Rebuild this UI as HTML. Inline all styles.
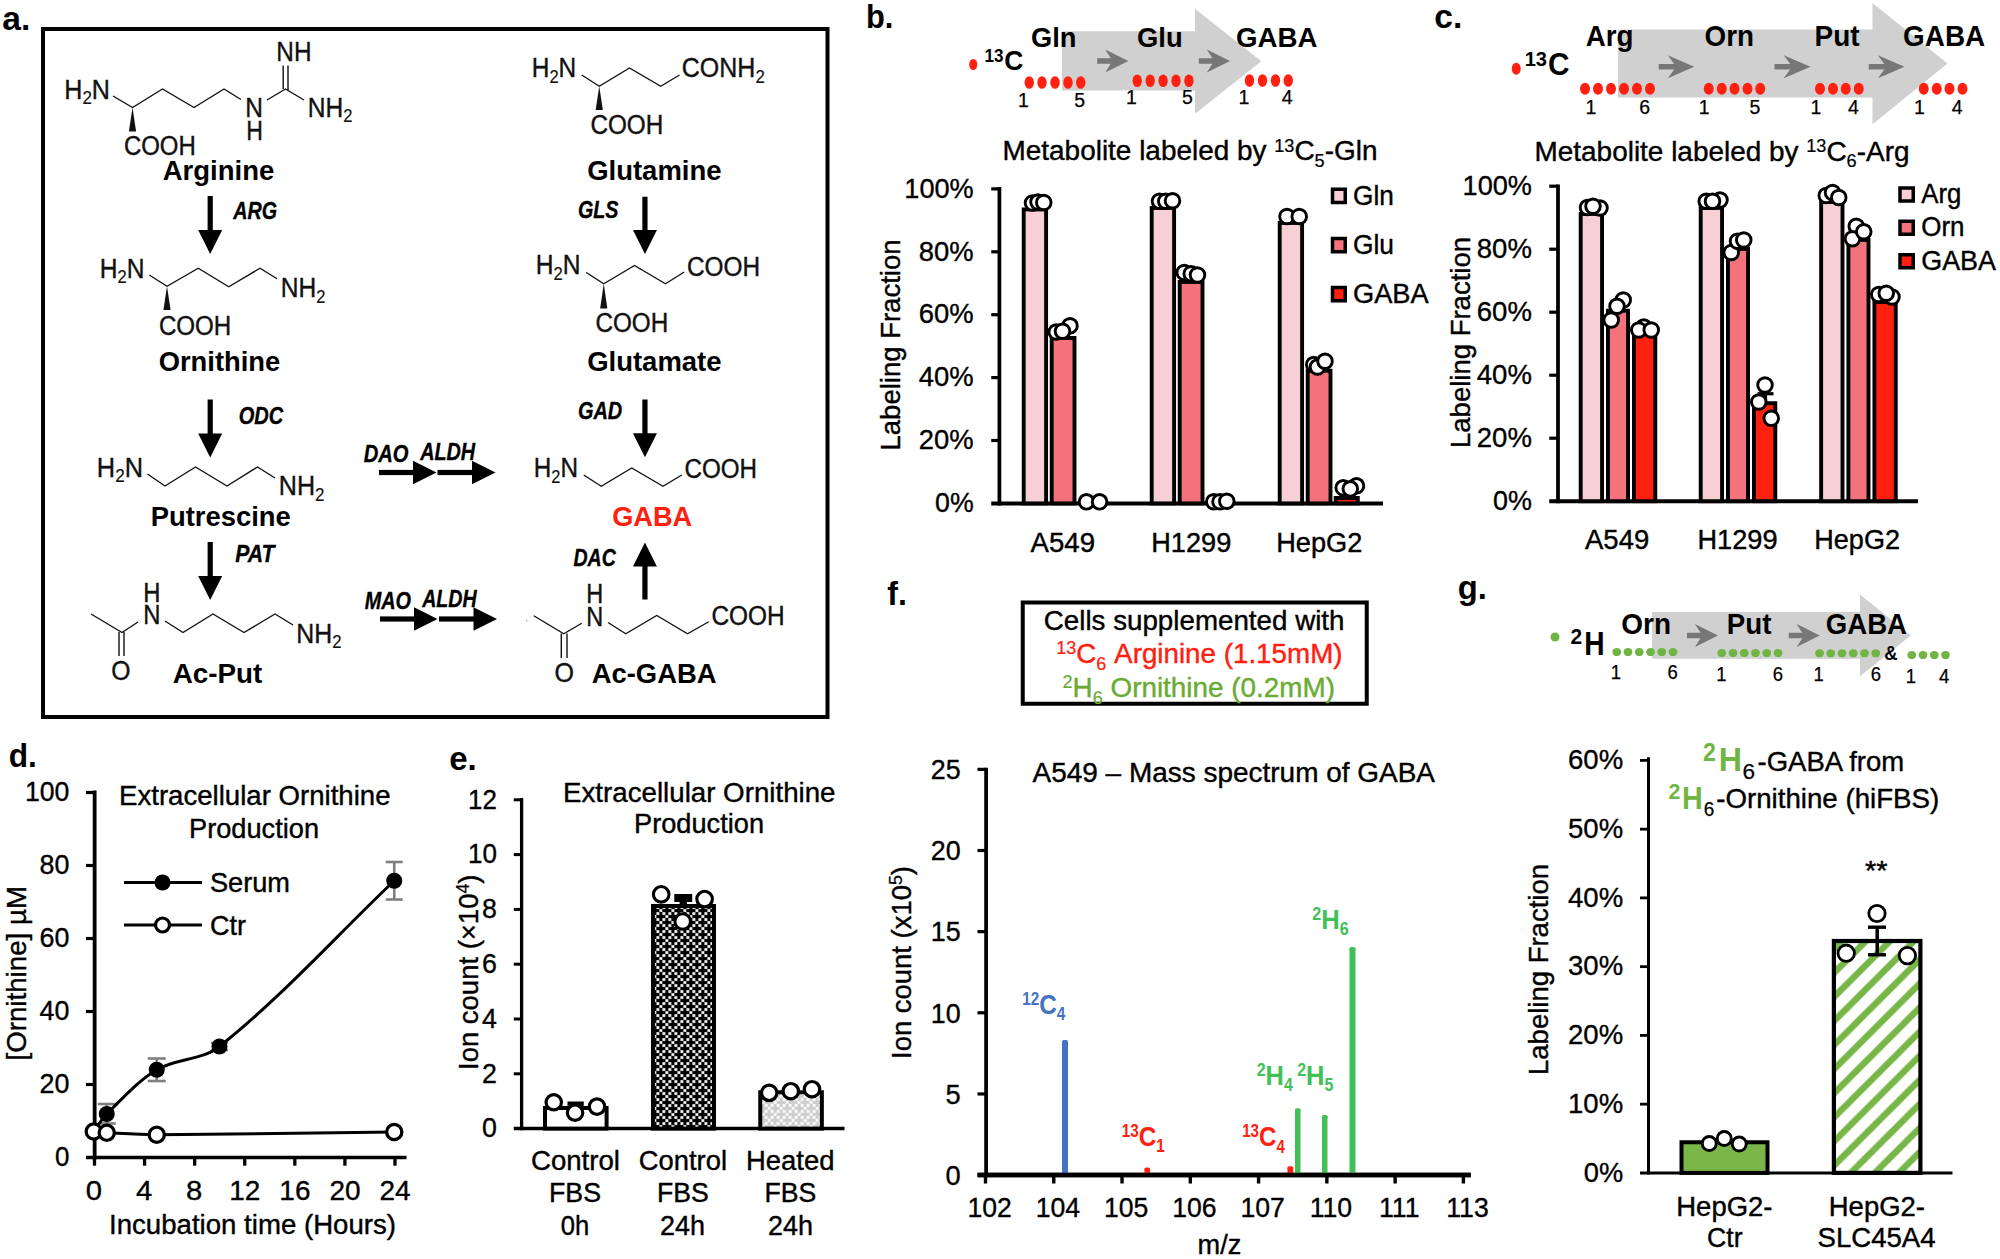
<!DOCTYPE html>
<html><head><meta charset="utf-8"><title>Figure</title>
<style>html,body{margin:0;padding:0;background:#fff}svg{display:block}text{font-family:"Liberation Sans",Arial,Helvetica,sans-serif}</style>
</head><body>
<svg width="2000" height="1259" viewBox="0 0 2000 1259">
<rect width="2000" height="1259" fill="#fff"/>
<g id="panel-a">
<text x="2.20" y="29.60" textLength="28.07" lengthAdjust="spacingAndGlyphs" font-size="33.5" font-weight="bold">a.</text>
<rect x="43.00" y="29.00" width="784.50" height="688.00" fill="none" stroke="#000" stroke-width="4"/>
<text x="64.30" y="98.60" textLength="18.14" lengthAdjust="spacingAndGlyphs" font-size="28.3" fill="#111" stroke="#111" stroke-width="0.4">H</text>
<text x="82.44" y="104.40" textLength="9.42" lengthAdjust="spacingAndGlyphs" font-size="19.075" fill="#111" stroke="#111" stroke-width="0.2">2</text>
<text x="91.85" y="98.60" textLength="18.14" lengthAdjust="spacingAndGlyphs" font-size="28.3" fill="#111" stroke="#111" stroke-width="0.4">N</text>
<polyline points="113.00,96.00 132.50,107.50 162.50,89.00 194.00,107.50 224.00,89.00 241.00,99.50" fill="none" stroke="#111" stroke-width="1.4" stroke-linejoin="miter"/>
<text x="245.30" y="117.30" textLength="17.69" lengthAdjust="spacingAndGlyphs" font-size="28.3" fill="#111" stroke="#111" stroke-width="0.4">N</text>
<text x="246.30" y="140.30" textLength="16.69" lengthAdjust="spacingAndGlyphs" font-size="28.3" fill="#111" stroke="#111" stroke-width="0.4">H</text>
<polyline points="267.00,100.00 285.50,89.00 304.00,100.00" fill="none" stroke="#111" stroke-width="1.4" stroke-linejoin="miter"/>
<line x1="283.20" y1="89.00" x2="283.20" y2="65.50" stroke="#111" stroke-width="1.4" stroke-linecap="butt"/>
<line x1="288.00" y1="90.00" x2="288.00" y2="65.50" stroke="#111" stroke-width="1.4" stroke-linecap="butt"/>
<text x="276.30" y="61.10" textLength="35.18" lengthAdjust="spacingAndGlyphs" font-size="28.3" fill="#111" stroke="#111" stroke-width="0.4">NH</text>
<text x="307.80" y="116.60" textLength="35.50" lengthAdjust="spacingAndGlyphs" font-size="28.3" fill="#111" stroke="#111" stroke-width="0.4">NH</text>
<text x="343.30" y="122.40" textLength="9.21" lengthAdjust="spacingAndGlyphs" font-size="19.075" fill="#111" stroke="#111" stroke-width="0.2">2</text>
<polygon points="132.50,107.50 128.90,131.50 136.10,131.50" fill="#111"/>
<text x="123.90" y="154.70" textLength="71.90" lengthAdjust="spacingAndGlyphs" font-size="26.8" fill="#111" stroke="#111" stroke-width="0.4">COOH</text>
<text x="162.70" y="180.40" textLength="111.62" lengthAdjust="spacingAndGlyphs" font-size="27.82" font-weight="bold">Arginine</text>
<rect x="207.60" y="196.00" width="5.20" height="35.00" fill="#000"/>
<polygon points="198.20,230.00 222.20,230.00 210.20,254.00" fill="#000"/>
<text x="233.14" y="218.90" textLength="43.85" lengthAdjust="spacingAndGlyphs" font-size="24.38" font-weight="bold" font-style="italic" stroke="#000" stroke-width="0.35">ARG</text>
<text x="99.80" y="277.60" textLength="17.74" lengthAdjust="spacingAndGlyphs" font-size="28.3" fill="#111" stroke="#111" stroke-width="0.4">H</text>
<text x="117.54" y="283.40" textLength="9.21" lengthAdjust="spacingAndGlyphs" font-size="19.075" fill="#111" stroke="#111" stroke-width="0.2">2</text>
<text x="126.75" y="277.60" textLength="17.74" lengthAdjust="spacingAndGlyphs" font-size="28.3" fill="#111" stroke="#111" stroke-width="0.4">N</text>
<polyline points="149.25,275.00 167.00,286.25 198.25,268.25 228.75,286.75 260.00,268.25 277.00,278.75" fill="none" stroke="#111" stroke-width="1.4" stroke-linejoin="miter"/>
<text x="280.80" y="296.85" textLength="35.50" lengthAdjust="spacingAndGlyphs" font-size="28.3" fill="#111" stroke="#111" stroke-width="0.4">NH</text>
<text x="316.30" y="302.65" textLength="9.21" lengthAdjust="spacingAndGlyphs" font-size="19.075" fill="#111" stroke="#111" stroke-width="0.2">2</text>
<polygon points="167.00,286.25 163.40,310.00 170.60,310.00" fill="#111"/>
<text x="158.90" y="335.45" textLength="72.40" lengthAdjust="spacingAndGlyphs" font-size="26.8" fill="#111" stroke="#111" stroke-width="0.4">COOH</text>
<text x="158.70" y="370.90" textLength="121.59" lengthAdjust="spacingAndGlyphs" font-size="27.82" font-weight="bold">Ornithine</text>
<rect x="207.60" y="399.50" width="5.20" height="35.00" fill="#000"/>
<polygon points="198.20,433.50 222.20,433.50 210.20,457.50" fill="#000"/>
<text x="238.70" y="423.90" textLength="44.54" lengthAdjust="spacingAndGlyphs" font-size="24.38" font-weight="bold" font-style="italic" stroke="#000" stroke-width="0.35">ODC</text>
<text x="96.80" y="476.60" textLength="18.34" lengthAdjust="spacingAndGlyphs" font-size="28.3" fill="#111" stroke="#111" stroke-width="0.4">H</text>
<text x="115.14" y="482.40" textLength="9.52" lengthAdjust="spacingAndGlyphs" font-size="19.075" fill="#111" stroke="#111" stroke-width="0.2">2</text>
<text x="124.66" y="476.60" textLength="18.34" lengthAdjust="spacingAndGlyphs" font-size="28.3" fill="#111" stroke="#111" stroke-width="0.4">N</text>
<polyline points="147.50,474.00 165.00,486.00 195.50,467.00 227.00,486.00 257.50,467.00 275.00,478.00" fill="none" stroke="#111" stroke-width="1.4" stroke-linejoin="miter"/>
<text x="278.80" y="495.10" textLength="36.30" lengthAdjust="spacingAndGlyphs" font-size="28.3" fill="#111" stroke="#111" stroke-width="0.4">NH</text>
<text x="315.10" y="500.90" textLength="9.42" lengthAdjust="spacingAndGlyphs" font-size="19.075" fill="#111" stroke="#111" stroke-width="0.2">2</text>
<text x="150.70" y="526.40" textLength="140.13" lengthAdjust="spacingAndGlyphs" font-size="27.82" font-weight="bold">Putrescine</text>
<rect x="207.60" y="542.00" width="5.20" height="35.00" fill="#000"/>
<polygon points="198.20,576.00 222.20,576.00 210.20,600.00" fill="#000"/>
<text x="235.20" y="561.90" textLength="39.30" lengthAdjust="spacingAndGlyphs" font-size="24.38" font-weight="bold" font-style="italic" stroke="#000" stroke-width="0.35">PAT</text>
<polyline points="91.00,614.00 122.00,632.50 138.00,622.00" fill="none" stroke="#111" stroke-width="1.4" stroke-linejoin="miter"/>
<line x1="119.00" y1="632.00" x2="119.00" y2="656.00" stroke="#111" stroke-width="1.4" stroke-linecap="butt"/>
<line x1="124.00" y1="632.00" x2="124.00" y2="656.00" stroke="#111" stroke-width="1.4" stroke-linecap="butt"/>
<text x="111.30" y="679.80" textLength="19.21" lengthAdjust="spacingAndGlyphs" font-size="28.3" fill="#111" stroke="#111" stroke-width="0.4">O</text>
<text x="143.30" y="601.80" textLength="17.19" lengthAdjust="spacingAndGlyphs" font-size="28.3" fill="#111" stroke="#111" stroke-width="0.4">H</text>
<text x="143.30" y="624.10" textLength="17.19" lengthAdjust="spacingAndGlyphs" font-size="28.3" fill="#111" stroke="#111" stroke-width="0.4">N</text>
<polyline points="165.00,621.00 183.00,632.50 213.00,614.00 244.00,632.50 275.00,614.00 293.00,625.00" fill="none" stroke="#111" stroke-width="1.4" stroke-linejoin="miter"/>
<text x="296.30" y="642.60" textLength="35.90" lengthAdjust="spacingAndGlyphs" font-size="28.3" fill="#111" stroke="#111" stroke-width="0.4">NH</text>
<text x="332.20" y="648.40" textLength="9.32" lengthAdjust="spacingAndGlyphs" font-size="19.075" fill="#111" stroke="#111" stroke-width="0.2">2</text>
<text x="172.70" y="682.90" textLength="89.59" lengthAdjust="spacingAndGlyphs" font-size="27.82" font-weight="bold">Ac-Put</text>
<text x="363.70" y="461.90" textLength="44.79" lengthAdjust="spacingAndGlyphs" font-size="24.38" font-weight="bold" font-style="italic" stroke="#000" stroke-width="0.35">DAO</text>
<text x="420.15" y="460.40" textLength="55.01" lengthAdjust="spacingAndGlyphs" font-size="24.38" font-weight="bold" font-style="italic" stroke="#000" stroke-width="0.35">ALDH</text>
<rect x="379.00" y="469.90" width="35.00" height="5.20" fill="#000"/>
<polygon points="413.00,460.70 413.00,484.30 436.50,472.50" fill="#000"/>
<rect x="437.50" y="469.90" width="35.50" height="5.20" fill="#000"/>
<polygon points="472.00,460.70 472.00,484.30 495.50,472.50" fill="#000"/>
<text x="364.70" y="608.90" textLength="46.31" lengthAdjust="spacingAndGlyphs" font-size="24.38" font-weight="bold" font-style="italic" stroke="#000" stroke-width="0.35">MAO</text>
<text x="422.14" y="606.90" textLength="54.51" lengthAdjust="spacingAndGlyphs" font-size="24.38" font-weight="bold" font-style="italic" stroke="#000" stroke-width="0.35">ALDH</text>
<rect x="380.00" y="616.40" width="35.00" height="5.20" fill="#000"/>
<polygon points="414.00,607.20 414.00,630.80 437.50,619.00" fill="#000"/>
<rect x="439.00" y="616.40" width="35.50" height="5.20" fill="#000"/>
<polygon points="473.50,607.20 473.50,630.80 497.00,619.00" fill="#000"/>
<text x="531.80" y="76.85" textLength="17.64" lengthAdjust="spacingAndGlyphs" font-size="28.3" fill="#111" stroke="#111" stroke-width="0.4">H</text>
<text x="549.44" y="82.65" textLength="9.16" lengthAdjust="spacingAndGlyphs" font-size="19.075" fill="#111" stroke="#111" stroke-width="0.2">2</text>
<text x="558.60" y="76.85" textLength="17.64" lengthAdjust="spacingAndGlyphs" font-size="28.3" fill="#111" stroke="#111" stroke-width="0.4">N</text>
<polyline points="581.75,75.00 599.25,86.25 629.50,68.00 660.75,86.25 679.50,75.00" fill="none" stroke="#111" stroke-width="1.4" stroke-linejoin="miter"/>
<text x="681.80" y="76.85" textLength="73.60" lengthAdjust="spacingAndGlyphs" font-size="28.3" fill="#111" stroke="#111" stroke-width="0.4">CONH</text>
<text x="755.40" y="82.65" textLength="9.37" lengthAdjust="spacingAndGlyphs" font-size="19.075" fill="#111" stroke="#111" stroke-width="0.2">2</text>
<polygon points="599.25,86.25 595.65,110.00 602.85,110.00" fill="#111"/>
<text x="590.40" y="134.20" textLength="72.90" lengthAdjust="spacingAndGlyphs" font-size="26.8" fill="#111" stroke="#111" stroke-width="0.4">COOH</text>
<text x="587.20" y="179.90" textLength="134.34" lengthAdjust="spacingAndGlyphs" font-size="27.82" font-weight="bold">Glutamine</text>
<text x="577.95" y="217.90" textLength="40.56" lengthAdjust="spacingAndGlyphs" font-size="24.38" font-weight="bold" font-style="italic" stroke="#000" stroke-width="0.35">GLS</text>
<rect x="642.35" y="196.75" width="5.20" height="34.25" fill="#000"/>
<polygon points="632.95,230.00 656.95,230.00 644.95,254.00" fill="#000"/>
<text x="535.80" y="274.35" textLength="17.74" lengthAdjust="spacingAndGlyphs" font-size="28.3" fill="#111" stroke="#111" stroke-width="0.4">H</text>
<text x="553.54" y="280.15" textLength="9.21" lengthAdjust="spacingAndGlyphs" font-size="19.075" fill="#111" stroke="#111" stroke-width="0.2">2</text>
<text x="562.75" y="274.35" textLength="17.74" lengthAdjust="spacingAndGlyphs" font-size="28.3" fill="#111" stroke="#111" stroke-width="0.4">N</text>
<polyline points="586.25,272.50 603.75,283.75 634.50,265.50 665.50,283.75 684.25,272.00" fill="none" stroke="#111" stroke-width="1.4" stroke-linejoin="miter"/>
<text x="686.90" y="275.95" textLength="73.15" lengthAdjust="spacingAndGlyphs" font-size="26.8" fill="#111" stroke="#111" stroke-width="0.4">COOH</text>
<polygon points="603.75,283.75 600.15,308.50 607.35,308.50" fill="#111"/>
<text x="595.40" y="332.20" textLength="72.90" lengthAdjust="spacingAndGlyphs" font-size="26.8" fill="#111" stroke="#111" stroke-width="0.4">COOH</text>
<text x="587.20" y="370.90" textLength="134.36" lengthAdjust="spacingAndGlyphs" font-size="27.82" font-weight="bold">Glutamate</text>
<text x="577.95" y="419.15" textLength="44.29" lengthAdjust="spacingAndGlyphs" font-size="24.38" font-weight="bold" font-style="italic" stroke="#000" stroke-width="0.35">GAD</text>
<rect x="642.35" y="399.50" width="5.20" height="34.75" fill="#000"/>
<polygon points="632.95,433.25 656.95,433.25 644.95,457.25" fill="#000"/>
<text x="533.80" y="477.35" textLength="17.54" lengthAdjust="spacingAndGlyphs" font-size="28.3" fill="#111" stroke="#111" stroke-width="0.4">H</text>
<text x="551.34" y="483.15" textLength="9.11" lengthAdjust="spacingAndGlyphs" font-size="19.075" fill="#111" stroke="#111" stroke-width="0.2">2</text>
<text x="560.45" y="477.35" textLength="17.54" lengthAdjust="spacingAndGlyphs" font-size="28.3" fill="#111" stroke="#111" stroke-width="0.4">N</text>
<polyline points="583.75,475.00 601.25,486.25 631.75,468.00 663.00,486.25 681.75,475.00" fill="none" stroke="#111" stroke-width="1.4" stroke-linejoin="miter"/>
<text x="684.40" y="478.45" textLength="72.65" lengthAdjust="spacingAndGlyphs" font-size="26.8" fill="#111" stroke="#111" stroke-width="0.4">COOH</text>
<text x="612.20" y="526.15" textLength="80.08" lengthAdjust="spacingAndGlyphs" font-size="28.355" font-weight="bold" fill="#ff2010">GABA</text>
<text x="573.45" y="566.40" textLength="42.29" lengthAdjust="spacingAndGlyphs" font-size="24.38" font-weight="bold" font-style="italic" stroke="#000" stroke-width="0.35">DAC</text>
<rect x="642.35" y="565.50" width="5.20" height="34.00" fill="#000"/>
<polygon points="632.95,566.50 656.95,566.50 644.95,542.50" fill="#000"/>
<polyline points="533.75,615.75 563.75,633.75 581.75,623.25" fill="none" stroke="#111" stroke-width="1.4" stroke-linejoin="miter"/>
<line x1="561.30" y1="633.50" x2="561.30" y2="658.00" stroke="#111" stroke-width="1.4" stroke-linecap="butt"/>
<line x1="567.00" y1="633.50" x2="567.00" y2="658.00" stroke="#111" stroke-width="1.4" stroke-linecap="butt"/>
<text x="554.55" y="681.80" textLength="19.46" lengthAdjust="spacingAndGlyphs" font-size="28.3" fill="#111" stroke="#111" stroke-width="0.4">O</text>
<text x="586.30" y="603.30" textLength="16.94" lengthAdjust="spacingAndGlyphs" font-size="28.3" fill="#111" stroke="#111" stroke-width="0.4">H</text>
<text x="586.30" y="625.55" textLength="16.94" lengthAdjust="spacingAndGlyphs" font-size="28.3" fill="#111" stroke="#111" stroke-width="0.4">N</text>
<polyline points="608.00,622.50 625.75,633.75 656.75,615.50 687.50,633.75 708.75,621.75" fill="none" stroke="#111" stroke-width="1.4" stroke-linejoin="miter"/>
<text x="711.40" y="625.45" textLength="73.15" lengthAdjust="spacingAndGlyphs" font-size="26.8" fill="#111" stroke="#111" stroke-width="0.4">COOH</text>
<text x="591.70" y="682.90" textLength="124.87" lengthAdjust="spacingAndGlyphs" font-size="27.82" font-weight="bold">Ac-GABA</text>
<circle cx="526.75" cy="620.50" r="0.70" fill="#999"/>
</g>
<g id="panel-b">
<text x="865.95" y="27.85" textLength="27.39" lengthAdjust="spacingAndGlyphs" font-size="33.5" font-weight="bold">b.</text>
<polygon points="1062.00,31.25 1195.00,31.25 1195.00,8.75 1261.25,61.25 1195.00,113.75 1195.00,90.50 1062.00,90.50" fill="#d0d0d0"/>
<ellipse cx="973.25" cy="64.50" rx="4.00" ry="5.50" fill="#ff2010"/>
<text x="984.50" y="61.85" textLength="19.00" lengthAdjust="spacingAndGlyphs" font-size="18.645" font-weight="bold">13</text>
<text x="1004.20" y="69.90" textLength="19.09" lengthAdjust="spacingAndGlyphs" font-size="28.355" font-weight="bold">C</text>
<text x="1031.00" y="46.75" textLength="45.47" lengthAdjust="spacingAndGlyphs" font-size="28.35" font-weight="bold">Gln</text>
<text x="1137.00" y="46.75" textLength="45.72" lengthAdjust="spacingAndGlyphs" font-size="28.35" font-weight="bold">Glu</text>
<text x="1236.00" y="46.75" textLength="81.48" lengthAdjust="spacingAndGlyphs" font-size="28.35" font-weight="bold">GABA</text>
<ellipse cx="1029.25" cy="82.50" rx="4.70" ry="6.30" fill="#ff2010"/>
<ellipse cx="1042.00" cy="82.50" rx="4.70" ry="6.30" fill="#ff2010"/>
<ellipse cx="1055.00" cy="82.50" rx="4.70" ry="6.30" fill="#ff2010"/>
<ellipse cx="1068.00" cy="82.50" rx="4.70" ry="6.30" fill="#ff2010"/>
<ellipse cx="1080.75" cy="82.50" rx="4.70" ry="6.30" fill="#ff2010"/>
<ellipse cx="1137.20" cy="80.80" rx="4.70" ry="6.30" fill="#ff2010"/>
<ellipse cx="1150.20" cy="80.80" rx="4.70" ry="6.30" fill="#ff2010"/>
<ellipse cx="1163.10" cy="80.80" rx="4.70" ry="6.30" fill="#ff2010"/>
<ellipse cx="1176.00" cy="80.80" rx="4.70" ry="6.30" fill="#ff2010"/>
<ellipse cx="1188.90" cy="80.80" rx="4.70" ry="6.30" fill="#ff2010"/>
<ellipse cx="1249.50" cy="80.50" rx="4.70" ry="6.30" fill="#ff2010"/>
<ellipse cx="1262.50" cy="80.50" rx="4.70" ry="6.30" fill="#ff2010"/>
<ellipse cx="1275.50" cy="80.50" rx="4.70" ry="6.30" fill="#ff2010"/>
<ellipse cx="1288.25" cy="80.50" rx="4.70" ry="6.30" fill="#ff2010"/>
<polygon points="1097.20,58.20 1110.80,58.20 1105.20,49.50 1128.40,61.00 1105.20,72.50 1110.80,63.80 1097.20,63.80" fill="#777"/>
<polygon points="1198.80,58.20 1212.40,58.20 1206.80,49.50 1230.00,61.00 1206.80,72.50 1212.40,63.80 1198.80,63.80" fill="#777"/>
<text x="1018.09" y="106.75" textLength="10.85" lengthAdjust="spacingAndGlyphs" font-size="20.67" stroke="#000" stroke-width="0.25">1</text>
<text x="1074.34" y="106.75" textLength="10.85" lengthAdjust="spacingAndGlyphs" font-size="20.67" stroke="#000" stroke-width="0.25">5</text>
<text x="1126.09" y="104.25" textLength="10.85" lengthAdjust="spacingAndGlyphs" font-size="20.67" stroke="#000" stroke-width="0.25">1</text>
<text x="1182.09" y="104.25" textLength="10.85" lengthAdjust="spacingAndGlyphs" font-size="20.67" stroke="#000" stroke-width="0.25">5</text>
<text x="1238.59" y="103.75" textLength="10.85" lengthAdjust="spacingAndGlyphs" font-size="20.67" stroke="#000" stroke-width="0.25">1</text>
<text x="1281.84" y="103.75" textLength="10.85" lengthAdjust="spacingAndGlyphs" font-size="20.67" stroke="#000" stroke-width="0.25">4</text>
<text x="1002.50" y="160.30" textLength="264.00" lengthAdjust="spacingAndGlyphs" font-size="27.6925" stroke="#000" stroke-width="0.4">Metabolite labeled by</text>
<text x="1274.26" y="151.55" textLength="20.18" lengthAdjust="spacingAndGlyphs" font-size="17.985" stroke="#000" stroke-width="0.2">13</text>
<text x="1294.44" y="160.30" textLength="20.17" lengthAdjust="spacingAndGlyphs" font-size="27.6925" stroke="#000" stroke-width="0.4">C</text>
<text x="1314.62" y="166.55" textLength="10.09" lengthAdjust="spacingAndGlyphs" font-size="17.985" stroke="#000" stroke-width="0.2">5</text>
<text x="1324.71" y="160.30" textLength="52.77" lengthAdjust="spacingAndGlyphs" font-size="27.6925" stroke="#000" stroke-width="0.4">-Gln</text>
<line x1="999.40" y1="187.00" x2="999.40" y2="505.40" stroke="#000" stroke-width="3.75" stroke-linecap="butt"/>
<line x1="991.25" y1="503.40" x2="1383.00" y2="503.40" stroke="#000" stroke-width="4" stroke-linecap="butt"/>
<line x1="991.25" y1="440.50" x2="999.40" y2="440.50" stroke="#000" stroke-width="3.2" stroke-linecap="butt"/>
<line x1="991.25" y1="377.60" x2="999.40" y2="377.60" stroke="#000" stroke-width="3.2" stroke-linecap="butt"/>
<line x1="991.25" y1="314.70" x2="999.40" y2="314.70" stroke="#000" stroke-width="3.2" stroke-linecap="butt"/>
<line x1="991.25" y1="251.80" x2="999.40" y2="251.80" stroke="#000" stroke-width="3.2" stroke-linecap="butt"/>
<line x1="991.25" y1="188.90" x2="999.40" y2="188.90" stroke="#000" stroke-width="3.2" stroke-linecap="butt"/>
<text x="935.05" y="512.10" textLength="38.66" lengthAdjust="spacingAndGlyphs" font-size="27.6" stroke="#000" stroke-width="0.35">0%</text>
<text x="918.80" y="449.20" textLength="54.87" lengthAdjust="spacingAndGlyphs" font-size="27.6" stroke="#000" stroke-width="0.35">20%</text>
<text x="918.80" y="386.30" textLength="54.87" lengthAdjust="spacingAndGlyphs" font-size="27.6" stroke="#000" stroke-width="0.35">40%</text>
<text x="918.80" y="323.40" textLength="54.87" lengthAdjust="spacingAndGlyphs" font-size="27.6" stroke="#000" stroke-width="0.35">60%</text>
<text x="918.80" y="260.50" textLength="54.87" lengthAdjust="spacingAndGlyphs" font-size="27.6" stroke="#000" stroke-width="0.35">80%</text>
<text x="904.30" y="197.60" textLength="69.41" lengthAdjust="spacingAndGlyphs" font-size="27.6" stroke="#000" stroke-width="0.35">100%</text>
<g transform="translate(900.00,450.50) rotate(-90)">
<text x="0.00" y="0.30" textLength="210.98" lengthAdjust="spacingAndGlyphs" font-size="27.6925" stroke="#000" stroke-width="0.4">Labeling Fraction</text>
</g>
<text x="1030.50" y="551.55" textLength="64.51" lengthAdjust="spacingAndGlyphs" font-size="27.6925" stroke="#000" stroke-width="0.4">A549</text>
<text x="1151.25" y="551.55" textLength="79.98" lengthAdjust="spacingAndGlyphs" font-size="27.6925" stroke="#000" stroke-width="0.4">H1299</text>
<text x="1276.20" y="551.55" textLength="86.13" lengthAdjust="spacingAndGlyphs" font-size="27.6925" stroke="#000" stroke-width="0.4">HepG2</text>
<rect x="1023.70" y="209.45" width="22.40" height="293.95" fill="#f6d0d5" stroke="#000" stroke-width="3.9"/>
<rect x="1051.70" y="337.95" width="22.80" height="165.45" fill="#f3727b" stroke="#000" stroke-width="3.9"/>
<rect x="1151.70" y="207.95" width="22.40" height="295.45" fill="#f6d0d5" stroke="#000" stroke-width="3.9"/>
<rect x="1179.70" y="281.95" width="22.80" height="221.45" fill="#f3727b" stroke="#000" stroke-width="3.9"/>
<rect x="1279.70" y="222.95" width="22.40" height="280.45" fill="#f6d0d5" stroke="#000" stroke-width="3.9"/>
<rect x="1307.70" y="370.70" width="22.80" height="132.70" fill="#f3727b" stroke="#000" stroke-width="3.9"/>
<rect x="1335.70" y="497.95" width="22.10" height="5.45" fill="#ff2010" stroke="#000" stroke-width="3.9"/>
<circle cx="1032.50" cy="203.00" r="7.30" fill="#fff" stroke="#000" stroke-width="2.9"/>
<circle cx="1038.00" cy="202.00" r="7.30" fill="#fff" stroke="#000" stroke-width="2.9"/>
<circle cx="1043.75" cy="202.50" r="7.30" fill="#fff" stroke="#000" stroke-width="2.9"/>
<circle cx="1056.25" cy="332.00" r="7.30" fill="#fff" stroke="#000" stroke-width="2.9"/>
<circle cx="1070.00" cy="325.75" r="7.30" fill="#fff" stroke="#000" stroke-width="2.9"/>
<circle cx="1062.50" cy="331.25" r="7.30" fill="#fff" stroke="#000" stroke-width="2.9"/>
<circle cx="1086.50" cy="501.80" r="7.30" fill="#fff" stroke="#000" stroke-width="2.9"/>
<circle cx="1099.60" cy="501.80" r="7.30" fill="#fff" stroke="#000" stroke-width="2.9"/>
<circle cx="1159.50" cy="201.25" r="7.30" fill="#fff" stroke="#000" stroke-width="2.9"/>
<circle cx="1165.75" cy="201.25" r="7.30" fill="#fff" stroke="#000" stroke-width="2.9"/>
<circle cx="1172.50" cy="200.75" r="7.30" fill="#fff" stroke="#000" stroke-width="2.9"/>
<circle cx="1184.25" cy="272.50" r="7.30" fill="#fff" stroke="#000" stroke-width="2.9"/>
<circle cx="1191.25" cy="273.75" r="7.30" fill="#fff" stroke="#000" stroke-width="2.9"/>
<circle cx="1197.50" cy="275.00" r="7.30" fill="#fff" stroke="#000" stroke-width="2.9"/>
<circle cx="1213.75" cy="501.75" r="7.30" fill="#fff" stroke="#000" stroke-width="2.9"/>
<circle cx="1220.00" cy="501.75" r="7.30" fill="#fff" stroke="#000" stroke-width="2.9"/>
<circle cx="1226.75" cy="501.25" r="7.30" fill="#fff" stroke="#000" stroke-width="2.9"/>
<circle cx="1287.00" cy="216.50" r="7.30" fill="#fff" stroke="#000" stroke-width="2.9"/>
<circle cx="1299.25" cy="216.50" r="7.30" fill="#fff" stroke="#000" stroke-width="2.9"/>
<circle cx="1313.75" cy="364.50" r="7.30" fill="#fff" stroke="#000" stroke-width="2.9"/>
<circle cx="1317.50" cy="367.00" r="7.30" fill="#fff" stroke="#000" stroke-width="2.9"/>
<circle cx="1325.00" cy="361.25" r="7.30" fill="#fff" stroke="#000" stroke-width="2.9"/>
<circle cx="1343.20" cy="487.80" r="7.30" fill="#fff" stroke="#000" stroke-width="2.9"/>
<circle cx="1356.50" cy="485.80" r="7.30" fill="#fff" stroke="#000" stroke-width="2.9"/>
<circle cx="1350.30" cy="488.80" r="7.30" fill="#fff" stroke="#000" stroke-width="2.9"/>
<rect x="1332.50" y="189.25" width="12.75" height="13.25" fill="#f6d0d5" stroke="#000" stroke-width="3.5"/>
<text x="1353.00" y="204.80" textLength="40.78" lengthAdjust="spacingAndGlyphs" font-size="27.17" stroke="#000" stroke-width="0.4">Gln</text>
<rect x="1332.50" y="238.50" width="12.75" height="13.25" fill="#f3727b" stroke="#000" stroke-width="3.5"/>
<text x="1353.00" y="254.05" textLength="41.03" lengthAdjust="spacingAndGlyphs" font-size="27.17" stroke="#000" stroke-width="0.4">Glu</text>
<rect x="1332.50" y="287.50" width="12.75" height="13.25" fill="#ff2010" stroke="#000" stroke-width="3.5"/>
<text x="1353.00" y="303.05" textLength="75.72" lengthAdjust="spacingAndGlyphs" font-size="27.17" stroke="#000" stroke-width="0.4">GABA</text>
</g>
<g id="panel-c">
<text x="1434.20" y="28.00" textLength="28.07" lengthAdjust="spacingAndGlyphs" font-size="33.5" font-weight="bold">c.</text>
<polygon points="1618.00,29.50 1872.50,29.50 1872.50,3.00 1947.50,63.62 1872.50,124.25 1872.50,97.50 1618.00,97.50" fill="#d0d0d0"/>
<ellipse cx="1516.25" cy="68.75" rx="4.50" ry="6.00" fill="#ff2010"/>
<text x="1524.70" y="66.10" textLength="22.35" lengthAdjust="spacingAndGlyphs" font-size="20.9" font-weight="bold">13</text>
<text x="1548.00" y="75.00" textLength="21.49" lengthAdjust="spacingAndGlyphs" font-size="30.975" font-weight="bold">C</text>
<text x="1585.75" y="45.50" textLength="47.74" lengthAdjust="spacingAndGlyphs" font-size="29.925" font-weight="bold">Arg</text>
<text x="1704.50" y="45.50" textLength="49.51" lengthAdjust="spacingAndGlyphs" font-size="29.925" font-weight="bold">Orn</text>
<text x="1814.50" y="45.50" textLength="45.02" lengthAdjust="spacingAndGlyphs" font-size="29.925" font-weight="bold">Put</text>
<text x="1903.00" y="45.50" textLength="82.23" lengthAdjust="spacingAndGlyphs" font-size="29.925" font-weight="bold">GABA</text>
<ellipse cx="1585.00" cy="88.75" rx="5.00" ry="6.00" fill="#ff2010"/>
<ellipse cx="1598.00" cy="88.75" rx="5.00" ry="6.00" fill="#ff2010"/>
<ellipse cx="1611.00" cy="88.75" rx="5.00" ry="6.00" fill="#ff2010"/>
<ellipse cx="1624.00" cy="88.75" rx="5.00" ry="6.00" fill="#ff2010"/>
<ellipse cx="1637.00" cy="88.75" rx="5.00" ry="6.00" fill="#ff2010"/>
<ellipse cx="1650.00" cy="88.75" rx="5.00" ry="6.00" fill="#ff2010"/>
<ellipse cx="1708.75" cy="88.75" rx="5.00" ry="6.00" fill="#ff2010"/>
<ellipse cx="1721.75" cy="88.75" rx="5.00" ry="6.00" fill="#ff2010"/>
<ellipse cx="1734.50" cy="88.75" rx="5.00" ry="6.00" fill="#ff2010"/>
<ellipse cx="1747.50" cy="88.75" rx="5.00" ry="6.00" fill="#ff2010"/>
<ellipse cx="1760.25" cy="88.75" rx="5.00" ry="6.00" fill="#ff2010"/>
<ellipse cx="1820.00" cy="88.75" rx="5.00" ry="6.00" fill="#ff2010"/>
<ellipse cx="1833.00" cy="88.75" rx="5.00" ry="6.00" fill="#ff2010"/>
<ellipse cx="1845.75" cy="88.75" rx="5.00" ry="6.00" fill="#ff2010"/>
<ellipse cx="1858.75" cy="88.75" rx="5.00" ry="6.00" fill="#ff2010"/>
<ellipse cx="1923.75" cy="88.75" rx="5.00" ry="6.00" fill="#ff2010"/>
<ellipse cx="1936.75" cy="88.75" rx="5.00" ry="6.00" fill="#ff2010"/>
<ellipse cx="1949.50" cy="88.75" rx="5.00" ry="6.00" fill="#ff2010"/>
<ellipse cx="1962.50" cy="88.75" rx="5.00" ry="6.00" fill="#ff2010"/>
<polygon points="1658.75,63.95 1674.22,63.95 1667.85,55.25 1694.25,66.75 1667.85,78.25 1674.22,69.55 1658.75,69.55" fill="#777"/>
<polygon points="1774.50,63.95 1790.19,63.95 1783.73,55.25 1810.50,66.75 1783.73,78.25 1790.19,69.55 1774.50,69.55" fill="#777"/>
<polygon points="1868.75,63.95 1884.33,63.95 1877.92,55.25 1904.50,66.75 1877.92,78.25 1884.33,69.55 1868.75,69.55" fill="#777"/>
<text x="1585.59" y="114.25" textLength="10.85" lengthAdjust="spacingAndGlyphs" font-size="20.67" stroke="#000" stroke-width="0.25">1</text>
<text x="1639.34" y="114.25" textLength="10.85" lengthAdjust="spacingAndGlyphs" font-size="20.67" stroke="#000" stroke-width="0.25">6</text>
<text x="1698.84" y="114.25" textLength="10.85" lengthAdjust="spacingAndGlyphs" font-size="20.67" stroke="#000" stroke-width="0.25">1</text>
<text x="1749.59" y="114.25" textLength="10.85" lengthAdjust="spacingAndGlyphs" font-size="20.67" stroke="#000" stroke-width="0.25">5</text>
<text x="1810.59" y="114.25" textLength="10.85" lengthAdjust="spacingAndGlyphs" font-size="20.67" stroke="#000" stroke-width="0.25">1</text>
<text x="1848.09" y="114.25" textLength="10.85" lengthAdjust="spacingAndGlyphs" font-size="20.67" stroke="#000" stroke-width="0.25">4</text>
<text x="1914.09" y="114.25" textLength="10.85" lengthAdjust="spacingAndGlyphs" font-size="20.67" stroke="#000" stroke-width="0.25">1</text>
<text x="1951.84" y="114.25" textLength="10.85" lengthAdjust="spacingAndGlyphs" font-size="20.67" stroke="#000" stroke-width="0.25">4</text>
<text x="1534.50" y="160.80" textLength="264.00" lengthAdjust="spacingAndGlyphs" font-size="27.6925" stroke="#000" stroke-width="0.4">Metabolite labeled by</text>
<text x="1806.26" y="152.05" textLength="20.18" lengthAdjust="spacingAndGlyphs" font-size="17.985" stroke="#000" stroke-width="0.2">13</text>
<text x="1826.44" y="160.80" textLength="20.17" lengthAdjust="spacingAndGlyphs" font-size="27.6925" stroke="#000" stroke-width="0.4">C</text>
<text x="1846.62" y="167.05" textLength="10.09" lengthAdjust="spacingAndGlyphs" font-size="17.985" stroke="#000" stroke-width="0.2">6</text>
<text x="1856.71" y="160.80" textLength="52.77" lengthAdjust="spacingAndGlyphs" font-size="27.6925" stroke="#000" stroke-width="0.4">-Arg</text>
<line x1="1558.00" y1="184.50" x2="1558.00" y2="503.20" stroke="#000" stroke-width="3.75" stroke-linecap="butt"/>
<line x1="1549.25" y1="501.20" x2="1918.00" y2="501.20" stroke="#000" stroke-width="4" stroke-linecap="butt"/>
<line x1="1549.25" y1="438.20" x2="1558.00" y2="438.20" stroke="#000" stroke-width="3.2" stroke-linecap="butt"/>
<line x1="1549.25" y1="375.20" x2="1558.00" y2="375.20" stroke="#000" stroke-width="3.2" stroke-linecap="butt"/>
<line x1="1549.25" y1="312.20" x2="1558.00" y2="312.20" stroke="#000" stroke-width="3.2" stroke-linecap="butt"/>
<line x1="1549.25" y1="249.20" x2="1558.00" y2="249.20" stroke="#000" stroke-width="3.2" stroke-linecap="butt"/>
<line x1="1549.25" y1="186.20" x2="1558.00" y2="186.20" stroke="#000" stroke-width="3.2" stroke-linecap="butt"/>
<text x="1493.05" y="509.90" textLength="38.91" lengthAdjust="spacingAndGlyphs" font-size="27.6" stroke="#000" stroke-width="0.35">0%</text>
<text x="1476.80" y="446.90" textLength="55.12" lengthAdjust="spacingAndGlyphs" font-size="27.6" stroke="#000" stroke-width="0.35">20%</text>
<text x="1476.80" y="383.90" textLength="55.12" lengthAdjust="spacingAndGlyphs" font-size="27.6" stroke="#000" stroke-width="0.35">40%</text>
<text x="1476.80" y="320.90" textLength="55.12" lengthAdjust="spacingAndGlyphs" font-size="27.6" stroke="#000" stroke-width="0.35">60%</text>
<text x="1476.80" y="257.90" textLength="55.12" lengthAdjust="spacingAndGlyphs" font-size="27.6" stroke="#000" stroke-width="0.35">80%</text>
<text x="1462.55" y="194.90" textLength="69.41" lengthAdjust="spacingAndGlyphs" font-size="27.6" stroke="#000" stroke-width="0.35">100%</text>
<g transform="translate(1469.50,448.00) rotate(-90)">
<text x="0.00" y="0.30" textLength="210.98" lengthAdjust="spacingAndGlyphs" font-size="27.6925" stroke="#000" stroke-width="0.4">Labeling Fraction</text>
</g>
<text x="1585.00" y="549.05" textLength="64.26" lengthAdjust="spacingAndGlyphs" font-size="27.6925" stroke="#000" stroke-width="0.4">A549</text>
<text x="1697.50" y="549.05" textLength="79.98" lengthAdjust="spacingAndGlyphs" font-size="27.6925" stroke="#000" stroke-width="0.4">H1299</text>
<text x="1814.25" y="549.05" textLength="85.78" lengthAdjust="spacingAndGlyphs" font-size="27.6925" stroke="#000" stroke-width="0.4">HepG2</text>
<rect x="1580.70" y="213.95" width="21.35" height="287.25" fill="#f6d0d5" stroke="#000" stroke-width="3.9"/>
<rect x="1607.95" y="310.70" width="20.10" height="190.50" fill="#f3727b" stroke="#000" stroke-width="3.9"/>
<rect x="1633.95" y="333.20" width="21.35" height="168.00" fill="#ff2010" stroke="#000" stroke-width="3.9"/>
<rect x="1700.70" y="207.95" width="21.35" height="293.25" fill="#f6d0d5" stroke="#000" stroke-width="3.9"/>
<rect x="1727.95" y="248.95" width="20.10" height="252.25" fill="#f3727b" stroke="#000" stroke-width="3.9"/>
<rect x="1753.95" y="403.20" width="21.35" height="98.00" fill="#ff2010" stroke="#000" stroke-width="3.9"/>
<rect x="1821.15" y="201.95" width="21.35" height="299.25" fill="#f6d0d5" stroke="#000" stroke-width="3.9"/>
<rect x="1848.40" y="239.95" width="20.10" height="261.25" fill="#f3727b" stroke="#000" stroke-width="3.9"/>
<rect x="1874.40" y="301.95" width="21.35" height="199.25" fill="#ff2010" stroke="#000" stroke-width="3.9"/>
<line x1="1757.50" y1="393.75" x2="1773.50" y2="393.75" stroke="#000" stroke-width="3.2" stroke-linecap="butt"/>
<line x1="1765.50" y1="393.75" x2="1765.50" y2="403.00" stroke="#000" stroke-width="3.2" stroke-linecap="butt"/>
<circle cx="1587.50" cy="207.50" r="7.30" fill="#fff" stroke="#000" stroke-width="2.9"/>
<circle cx="1600.00" cy="208.00" r="7.30" fill="#fff" stroke="#000" stroke-width="2.9"/>
<circle cx="1593.00" cy="206.25" r="7.30" fill="#fff" stroke="#000" stroke-width="2.9"/>
<circle cx="1623.25" cy="300.00" r="7.30" fill="#fff" stroke="#000" stroke-width="2.9"/>
<circle cx="1611.25" cy="320.00" r="7.30" fill="#fff" stroke="#000" stroke-width="2.9"/>
<circle cx="1617.00" cy="306.25" r="7.30" fill="#fff" stroke="#000" stroke-width="2.9"/>
<circle cx="1643.75" cy="327.00" r="7.30" fill="#fff" stroke="#000" stroke-width="2.9"/>
<circle cx="1638.75" cy="330.00" r="7.30" fill="#fff" stroke="#000" stroke-width="2.9"/>
<circle cx="1651.25" cy="330.00" r="7.30" fill="#fff" stroke="#000" stroke-width="2.9"/>
<circle cx="1706.25" cy="201.25" r="7.30" fill="#fff" stroke="#000" stroke-width="2.9"/>
<circle cx="1720.00" cy="200.00" r="7.30" fill="#fff" stroke="#000" stroke-width="2.9"/>
<circle cx="1712.50" cy="201.25" r="7.30" fill="#fff" stroke="#000" stroke-width="2.9"/>
<circle cx="1731.25" cy="252.50" r="7.30" fill="#fff" stroke="#000" stroke-width="2.9"/>
<circle cx="1737.50" cy="241.25" r="7.30" fill="#fff" stroke="#000" stroke-width="2.9"/>
<circle cx="1743.75" cy="240.00" r="7.30" fill="#fff" stroke="#000" stroke-width="2.9"/>
<circle cx="1765.00" cy="385.00" r="7.30" fill="#fff" stroke="#000" stroke-width="2.9"/>
<circle cx="1758.75" cy="402.00" r="7.30" fill="#fff" stroke="#000" stroke-width="2.9"/>
<circle cx="1771.25" cy="418.25" r="7.30" fill="#fff" stroke="#000" stroke-width="2.9"/>
<circle cx="1826.25" cy="195.50" r="7.30" fill="#fff" stroke="#000" stroke-width="2.9"/>
<circle cx="1832.50" cy="192.50" r="7.30" fill="#fff" stroke="#000" stroke-width="2.9"/>
<circle cx="1838.75" cy="197.50" r="7.30" fill="#fff" stroke="#000" stroke-width="2.9"/>
<circle cx="1856.25" cy="226.25" r="7.30" fill="#fff" stroke="#000" stroke-width="2.9"/>
<circle cx="1852.50" cy="238.75" r="7.30" fill="#fff" stroke="#000" stroke-width="2.9"/>
<circle cx="1863.75" cy="231.75" r="7.30" fill="#fff" stroke="#000" stroke-width="2.9"/>
<circle cx="1878.75" cy="294.50" r="7.30" fill="#fff" stroke="#000" stroke-width="2.9"/>
<circle cx="1892.00" cy="297.00" r="7.30" fill="#fff" stroke="#000" stroke-width="2.9"/>
<circle cx="1886.25" cy="293.25" r="7.30" fill="#fff" stroke="#000" stroke-width="2.9"/>
<rect x="1900.00" y="188.00" width="13.25" height="13.00" fill="#f6d0d5" stroke="#000" stroke-width="3.5"/>
<text x="1921.25" y="202.95" textLength="40.03" lengthAdjust="spacingAndGlyphs" font-size="27.17" stroke="#000" stroke-width="0.4">Arg</text>
<rect x="1900.00" y="221.25" width="13.25" height="13.00" fill="#f3727b" stroke="#000" stroke-width="3.5"/>
<text x="1921.25" y="236.20" textLength="43.24" lengthAdjust="spacingAndGlyphs" font-size="27.17" stroke="#000" stroke-width="0.4">Orn</text>
<rect x="1900.00" y="254.75" width="13.25" height="13.00" fill="#ff2010" stroke="#000" stroke-width="3.5"/>
<text x="1921.25" y="269.70" textLength="74.72" lengthAdjust="spacingAndGlyphs" font-size="27.17" stroke="#000" stroke-width="0.4">GABA</text>
</g>
<g id="panel-d">
<text x="8.70" y="766.60" textLength="28.14" lengthAdjust="spacingAndGlyphs" font-size="33.5" font-weight="bold">d.</text>
<line x1="94.65" y1="790.60" x2="94.65" y2="1159.50" stroke="#000" stroke-width="3.8" stroke-linecap="butt"/>
<line x1="86.00" y1="1157.50" x2="406.50" y2="1157.50" stroke="#000" stroke-width="3.7" stroke-linecap="butt"/>
<line x1="86.00" y1="1084.50" x2="94.65" y2="1084.50" stroke="#000" stroke-width="3.2" stroke-linecap="butt"/>
<line x1="86.00" y1="1011.50" x2="94.65" y2="1011.50" stroke="#000" stroke-width="3.2" stroke-linecap="butt"/>
<line x1="86.00" y1="938.50" x2="94.65" y2="938.50" stroke="#000" stroke-width="3.2" stroke-linecap="butt"/>
<line x1="86.00" y1="865.50" x2="94.65" y2="865.50" stroke="#000" stroke-width="3.2" stroke-linecap="butt"/>
<line x1="86.00" y1="792.50" x2="94.65" y2="792.50" stroke="#000" stroke-width="3.2" stroke-linecap="butt"/>
<line x1="94.50" y1="1157.50" x2="94.50" y2="1165.70" stroke="#000" stroke-width="3.3" stroke-linecap="butt"/>
<line x1="144.58" y1="1157.50" x2="144.58" y2="1165.70" stroke="#000" stroke-width="3.3" stroke-linecap="butt"/>
<line x1="194.66" y1="1157.50" x2="194.66" y2="1165.70" stroke="#000" stroke-width="3.3" stroke-linecap="butt"/>
<line x1="244.74" y1="1157.50" x2="244.74" y2="1165.70" stroke="#000" stroke-width="3.3" stroke-linecap="butt"/>
<line x1="294.82" y1="1157.50" x2="294.82" y2="1165.70" stroke="#000" stroke-width="3.3" stroke-linecap="butt"/>
<line x1="344.90" y1="1157.50" x2="344.90" y2="1165.70" stroke="#000" stroke-width="3.3" stroke-linecap="butt"/>
<line x1="394.98" y1="1157.50" x2="394.98" y2="1165.70" stroke="#000" stroke-width="3.3" stroke-linecap="butt"/>
<text x="55.00" y="1166.30" textLength="14.43" lengthAdjust="spacingAndGlyphs" font-size="27.6" stroke="#000" stroke-width="0.35">0</text>
<text x="39.50" y="1093.30" textLength="29.90" lengthAdjust="spacingAndGlyphs" font-size="27.6" stroke="#000" stroke-width="0.35">20</text>
<text x="39.50" y="1020.30" textLength="29.90" lengthAdjust="spacingAndGlyphs" font-size="27.6" stroke="#000" stroke-width="0.35">40</text>
<text x="39.50" y="947.30" textLength="29.90" lengthAdjust="spacingAndGlyphs" font-size="27.6" stroke="#000" stroke-width="0.35">60</text>
<text x="39.50" y="874.30" textLength="29.90" lengthAdjust="spacingAndGlyphs" font-size="27.6" stroke="#000" stroke-width="0.35">80</text>
<text x="25.00" y="801.30" textLength="44.43" lengthAdjust="spacingAndGlyphs" font-size="27.6" stroke="#000" stroke-width="0.35">100</text>
<text x="85.88" y="1199.90" textLength="16.28" lengthAdjust="spacingAndGlyphs" font-size="27.6" stroke="#000" stroke-width="0.35">0</text>
<text x="135.98" y="1199.90" textLength="16.28" lengthAdjust="spacingAndGlyphs" font-size="27.6" stroke="#000" stroke-width="0.35">4</text>
<text x="186.08" y="1199.90" textLength="16.28" lengthAdjust="spacingAndGlyphs" font-size="27.6" stroke="#000" stroke-width="0.35">8</text>
<text x="229.22" y="1199.90" textLength="31.15" lengthAdjust="spacingAndGlyphs" font-size="27.6" stroke="#000" stroke-width="0.35">12</text>
<text x="279.32" y="1199.90" textLength="31.15" lengthAdjust="spacingAndGlyphs" font-size="27.6" stroke="#000" stroke-width="0.35">16</text>
<text x="329.42" y="1199.90" textLength="31.15" lengthAdjust="spacingAndGlyphs" font-size="27.6" stroke="#000" stroke-width="0.35">20</text>
<text x="379.52" y="1199.90" textLength="31.15" lengthAdjust="spacingAndGlyphs" font-size="27.6" stroke="#000" stroke-width="0.35">24</text>
<text x="109.00" y="1234.30" textLength="287.02" lengthAdjust="spacingAndGlyphs" font-size="27.6925" stroke="#000" stroke-width="0.4">Incubation time (Hours)</text>
<g transform="translate(25.50,1060.50) rotate(-90)">
<text x="0.00" y="0.30" textLength="174.51" lengthAdjust="spacingAndGlyphs" font-size="27.6925" stroke="#000" stroke-width="0.4">[Ornithine] µM</text>
</g>
<text x="119.00" y="804.80" textLength="271.51" lengthAdjust="spacingAndGlyphs" font-size="27.6925" stroke="#000" stroke-width="0.4">Extracellular Ornithine</text>
<text x="189.00" y="838.10" textLength="130.02" lengthAdjust="spacingAndGlyphs" font-size="27.6925" stroke="#000" stroke-width="0.4">Production</text>
<line x1="124.00" y1="882.50" x2="202.00" y2="882.50" stroke="#000" stroke-width="3" stroke-linecap="butt"/>
<circle cx="162.50" cy="882.50" r="8.00" fill="#000"/>
<text x="210.00" y="892.30" textLength="80.01" lengthAdjust="spacingAndGlyphs" font-size="27.6925" stroke="#000" stroke-width="0.4">Serum</text>
<line x1="124.00" y1="925.00" x2="202.00" y2="925.00" stroke="#000" stroke-width="3" stroke-linecap="butt"/>
<circle cx="162.50" cy="925.00" r="7.00" fill="#fff" stroke="#000" stroke-width="3.2"/>
<text x="210.00" y="934.80" textLength="36.01" lengthAdjust="spacingAndGlyphs" font-size="27.6925" stroke="#000" stroke-width="0.4">Ctr</text>
<line x1="106.75" y1="1104.00" x2="106.75" y2="1123.50" stroke="#7f7f7f" stroke-width="2.6" stroke-linecap="butt"/>
<line x1="97.75" y1="1104.00" x2="115.75" y2="1104.00" stroke="#7f7f7f" stroke-width="2.6" stroke-linecap="butt"/>
<line x1="97.75" y1="1123.50" x2="115.75" y2="1123.50" stroke="#7f7f7f" stroke-width="2.6" stroke-linecap="butt"/>
<line x1="156.75" y1="1058.50" x2="156.75" y2="1081.00" stroke="#7f7f7f" stroke-width="2.6" stroke-linecap="butt"/>
<line x1="147.75" y1="1058.50" x2="165.75" y2="1058.50" stroke="#7f7f7f" stroke-width="2.6" stroke-linecap="butt"/>
<line x1="147.75" y1="1081.00" x2="165.75" y2="1081.00" stroke="#7f7f7f" stroke-width="2.6" stroke-linecap="butt"/>
<line x1="219.50" y1="1043.00" x2="219.50" y2="1050.00" stroke="#7f7f7f" stroke-width="2.6" stroke-linecap="butt"/>
<line x1="211.00" y1="1043.00" x2="228.00" y2="1043.00" stroke="#7f7f7f" stroke-width="2.6" stroke-linecap="butt"/>
<line x1="211.00" y1="1050.00" x2="228.00" y2="1050.00" stroke="#7f7f7f" stroke-width="2.6" stroke-linecap="butt"/>
<line x1="394.25" y1="862.00" x2="394.25" y2="899.50" stroke="#7f7f7f" stroke-width="2.6" stroke-linecap="butt"/>
<line x1="385.75" y1="862.00" x2="402.75" y2="862.00" stroke="#7f7f7f" stroke-width="2.6" stroke-linecap="butt"/>
<line x1="385.75" y1="899.50" x2="402.75" y2="899.50" stroke="#7f7f7f" stroke-width="2.6" stroke-linecap="butt"/>
<path d="M93.75,1131.50 C98.08,1125.67 101.48,1119.17 106.75,1114.00 C122.90,1098.17 137.60,1081.21 156.75,1069.75 C175.94,1058.26 201.94,1060.47 219.50,1046.50 C282.69,996.21 336.00,936.00 394.25,880.75" fill="none" stroke="#000" stroke-width="3"/>
<path d="M93.75,1131.50 C98.08,1131.92 102.32,1132.52 106.75,1132.75 C123.74,1133.63 139.74,1134.79 156.75,1134.75 C237.49,1134.54 315.08,1132.92 394.25,1132.00" fill="none" stroke="#000" stroke-width="3"/>
<circle cx="106.75" cy="1114.00" r="8.00" fill="#000"/>
<circle cx="156.75" cy="1069.75" r="8.00" fill="#000"/>
<circle cx="219.50" cy="1046.50" r="8.00" fill="#000"/>
<circle cx="394.25" cy="880.75" r="8.00" fill="#000"/>
<circle cx="93.75" cy="1131.50" r="7.60" fill="#fff" stroke="#000" stroke-width="3.3"/>
<circle cx="106.75" cy="1132.75" r="7.60" fill="#fff" stroke="#000" stroke-width="3.3"/>
<circle cx="156.75" cy="1134.75" r="7.60" fill="#fff" stroke="#000" stroke-width="3.3"/>
<circle cx="394.25" cy="1132.00" r="7.60" fill="#fff" stroke="#000" stroke-width="3.3"/>
</g>
<defs>
<pattern id="chk" patternUnits="userSpaceOnUse" x="656.37" y="1044.06" width="12" height="12"><rect width="12" height="12" fill="#000"/><rect x="0.10" y="0.10" width="2.8" height="2.8" fill="#fff"/><rect x="6.10" y="0.10" width="2.8" height="2.8" fill="#fff"/><rect x="0.10" y="6.10" width="2.8" height="2.8" fill="#fff"/><rect x="6.10" y="6.10" width="2.8" height="2.8" fill="#fff"/><rect x="9.10" y="3.10" width="2.8" height="2.8" fill="#fff"/><rect x="3.10" y="9.10" width="2.8" height="2.8" fill="#fff"/></pattern>
<pattern id="chk2" patternUnits="userSpaceOnUse" x="764.62" y="1109.91" width="12" height="12"><rect width="12" height="12" fill="#cfcdcd"/><rect x="0.10" y="0.10" width="2.8" height="2.8" fill="#fff"/><rect x="6.10" y="0.10" width="2.8" height="2.8" fill="#fff"/><rect x="0.10" y="6.10" width="2.8" height="2.8" fill="#fff"/><rect x="6.10" y="6.10" width="2.8" height="2.8" fill="#fff"/><rect x="9.10" y="3.10" width="2.8" height="2.8" fill="#fff"/><rect x="3.10" y="9.10" width="2.8" height="2.8" fill="#fff"/></pattern>
<pattern id="stripe" patternUnits="userSpaceOnUse" x="13.7" y="0" width="24.08" height="24.08"><rect width="24.08" height="24.08" fill="#fff"/><path d="M-6,30.08 L30.08,-6 M-6,6 L6,-6 M18.08,30.08 L30.08,18.08" stroke="#76b748" stroke-width="6.6" fill="none"/></pattern>
</defs>
<g id="panel-e">
<text x="449.20" y="770.10" textLength="27.57" lengthAdjust="spacingAndGlyphs" font-size="33.5" font-weight="bold">e.</text>
<line x1="521.60" y1="798.00" x2="521.60" y2="1130.35" stroke="#000" stroke-width="3.3" stroke-linecap="butt"/>
<line x1="513.75" y1="1128.60" x2="844.50" y2="1128.60" stroke="#000" stroke-width="3.5" stroke-linecap="butt"/>
<line x1="513.75" y1="1073.80" x2="521.60" y2="1073.80" stroke="#000" stroke-width="3" stroke-linecap="butt"/>
<line x1="513.75" y1="1019.00" x2="521.60" y2="1019.00" stroke="#000" stroke-width="3" stroke-linecap="butt"/>
<line x1="513.75" y1="964.20" x2="521.60" y2="964.20" stroke="#000" stroke-width="3" stroke-linecap="butt"/>
<line x1="513.75" y1="909.40" x2="521.60" y2="909.40" stroke="#000" stroke-width="3" stroke-linecap="butt"/>
<line x1="513.75" y1="854.60" x2="521.60" y2="854.60" stroke="#000" stroke-width="3" stroke-linecap="butt"/>
<line x1="513.75" y1="799.80" x2="521.60" y2="799.80" stroke="#000" stroke-width="3" stroke-linecap="butt"/>
<text x="482.05" y="1137.30" textLength="14.93" lengthAdjust="spacingAndGlyphs" font-size="27.6" stroke="#000" stroke-width="0.35">0</text>
<text x="482.05" y="1082.50" textLength="14.93" lengthAdjust="spacingAndGlyphs" font-size="27.6" stroke="#000" stroke-width="0.35">2</text>
<text x="482.05" y="1027.70" textLength="14.93" lengthAdjust="spacingAndGlyphs" font-size="27.6" stroke="#000" stroke-width="0.35">4</text>
<text x="482.05" y="972.90" textLength="14.93" lengthAdjust="spacingAndGlyphs" font-size="27.6" stroke="#000" stroke-width="0.35">6</text>
<text x="482.05" y="918.10" textLength="14.93" lengthAdjust="spacingAndGlyphs" font-size="27.6" stroke="#000" stroke-width="0.35">8</text>
<text x="468.05" y="863.30" textLength="28.90" lengthAdjust="spacingAndGlyphs" font-size="27.6" stroke="#000" stroke-width="0.35">10</text>
<text x="468.05" y="808.50" textLength="28.90" lengthAdjust="spacingAndGlyphs" font-size="27.6" stroke="#000" stroke-width="0.35">12</text>
<g transform="translate(477.50,1070.00) rotate(-90)">
<text x="0.00" y="0.30" textLength="176.44" lengthAdjust="spacingAndGlyphs" font-size="27.6925" stroke="#000" stroke-width="0.4">Ion count (×10</text>
<text x="176.44" y="-8.70" textLength="9.92" lengthAdjust="spacingAndGlyphs" font-size="17.985" stroke="#000" stroke-width="0.2">4</text>
<text x="186.36" y="0.30" textLength="9.15" lengthAdjust="spacingAndGlyphs" font-size="27.6925" stroke="#000" stroke-width="0.4">)</text>
</g>
<text x="563.00" y="801.55" textLength="272.51" lengthAdjust="spacingAndGlyphs" font-size="27.6925" stroke="#000" stroke-width="0.4">Extracellular Ornithine</text>
<text x="634.00" y="833.30" textLength="130.02" lengthAdjust="spacingAndGlyphs" font-size="27.6925" stroke="#000" stroke-width="0.4">Production</text>
<rect x="545.00" y="1108.00" width="61.60" height="20.60" fill="#fff" stroke="#000" stroke-width="4"/>
<rect x="653.00" y="906.00" width="61.00" height="222.60" fill="url(#chk)" stroke="#000" stroke-width="4"/>
<rect x="760.25" y="1092.25" width="61.60" height="36.35" fill="url(#chk2)" stroke="#000" stroke-width="4"/>
<rect x="567.50" y="1101.50" width="16.25" height="6.00" fill="#000"/>
<rect x="674.30" y="894.00" width="17.90" height="8.00" fill="#000"/>
<rect x="679.60" y="901.00" width="7.40" height="5.00" fill="#000"/>
<circle cx="553.75" cy="1102.25" r="7.70" fill="#fff" stroke="#000" stroke-width="3.2"/>
<circle cx="575.05" cy="1112.70" r="7.70" fill="#fff" stroke="#000" stroke-width="3.2"/>
<circle cx="597.00" cy="1106.60" r="7.70" fill="#fff" stroke="#000" stroke-width="3.2"/>
<circle cx="661.20" cy="894.30" r="7.80" fill="#fff" stroke="#000" stroke-width="3.1"/>
<circle cx="704.60" cy="899.10" r="7.80" fill="#fff" stroke="#000" stroke-width="3.1"/>
<circle cx="682.70" cy="921.50" r="7.80" fill="#fff" stroke="#000" stroke-width="3.1"/>
<circle cx="769.20" cy="1092.80" r="7.70" fill="#fff" stroke="#000" stroke-width="3.2"/>
<circle cx="790.80" cy="1091.20" r="7.70" fill="#fff" stroke="#000" stroke-width="3.2"/>
<circle cx="812.00" cy="1089.20" r="7.70" fill="#fff" stroke="#000" stroke-width="3.2"/>
<text x="531.00" y="1170.30" textLength="88.97" lengthAdjust="spacingAndGlyphs" font-size="27.6925" stroke="#000" stroke-width="0.4">Control</text>
<text x="549.00" y="1202.30" textLength="52.00" lengthAdjust="spacingAndGlyphs" font-size="27.6925" stroke="#000" stroke-width="0.4">FBS</text>
<text x="560.75" y="1234.80" textLength="28.50" lengthAdjust="spacingAndGlyphs" font-size="27.6925" stroke="#000" stroke-width="0.4">0h</text>
<text x="638.75" y="1170.30" textLength="88.22" lengthAdjust="spacingAndGlyphs" font-size="27.6925" stroke="#000" stroke-width="0.4">Control</text>
<text x="657.00" y="1202.30" textLength="51.75" lengthAdjust="spacingAndGlyphs" font-size="27.6925" stroke="#000" stroke-width="0.4">FBS</text>
<text x="660.00" y="1234.80" textLength="45.03" lengthAdjust="spacingAndGlyphs" font-size="27.6925" stroke="#000" stroke-width="0.4">24h</text>
<text x="746.00" y="1170.30" textLength="88.49" lengthAdjust="spacingAndGlyphs" font-size="27.6925" stroke="#000" stroke-width="0.4">Heated</text>
<text x="764.50" y="1202.30" textLength="51.75" lengthAdjust="spacingAndGlyphs" font-size="27.6925" stroke="#000" stroke-width="0.4">FBS</text>
<text x="768.00" y="1234.80" textLength="45.03" lengthAdjust="spacingAndGlyphs" font-size="27.6925" stroke="#000" stroke-width="0.4">24h</text>
</g>
<g id="panel-f">
<text x="887.20" y="605.10" textLength="19.63" lengthAdjust="spacingAndGlyphs" font-size="33.5" font-weight="bold">f.</text>
<rect x="1022.75" y="602.50" width="344.00" height="101.25" fill="none" stroke="#000" stroke-width="4"/>
<text x="1043.75" y="629.80" textLength="300.73" lengthAdjust="spacingAndGlyphs" font-size="27.6925" stroke="#000" stroke-width="0.4">Cells supplemented with</text>
<text x="1056.25" y="654.30" textLength="20.06" lengthAdjust="spacingAndGlyphs" font-size="17.985" fill="#ff2010" stroke="#ff2010" stroke-width="0.2">13</text>
<text x="1076.31" y="663.30" textLength="20.05" lengthAdjust="spacingAndGlyphs" font-size="27.6925" fill="#ff2010" stroke="#ff2010" stroke-width="0.4">C</text>
<text x="1096.36" y="669.80" textLength="10.03" lengthAdjust="spacingAndGlyphs" font-size="17.985" fill="#ff2010" stroke="#ff2010" stroke-width="0.2">6</text>
<text x="1114.11" y="663.30" textLength="228.40" lengthAdjust="spacingAndGlyphs" font-size="27.6925" fill="#ff2010" stroke="#ff2010" stroke-width="0.4">Arginine (1.15mM)</text>
<text x="1062.50" y="688.05" textLength="10.06" lengthAdjust="spacingAndGlyphs" font-size="17.985" fill="#6aab33" stroke="#6aab33" stroke-width="0.2">2</text>
<text x="1072.56" y="697.05" textLength="20.12" lengthAdjust="spacingAndGlyphs" font-size="27.6925" fill="#6aab33" stroke="#6aab33" stroke-width="0.4">H</text>
<text x="1092.69" y="703.55" textLength="10.06" lengthAdjust="spacingAndGlyphs" font-size="17.985" fill="#6aab33" stroke="#6aab33" stroke-width="0.2">6</text>
<text x="1110.49" y="697.05" textLength="224.52" lengthAdjust="spacingAndGlyphs" font-size="27.6925" fill="#6aab33" stroke="#6aab33" stroke-width="0.4">Ornithine (0.2mM)</text>
<line x1="986.10" y1="767.70" x2="986.10" y2="1177.30" stroke="#000" stroke-width="3.75" stroke-linecap="butt"/>
<line x1="977.50" y1="1175.10" x2="1470.75" y2="1175.10" stroke="#000" stroke-width="4.5" stroke-linecap="butt"/>
<line x1="977.50" y1="1093.95" x2="986.10" y2="1093.95" stroke="#000" stroke-width="3.2" stroke-linecap="butt"/>
<line x1="977.50" y1="1012.80" x2="986.10" y2="1012.80" stroke="#000" stroke-width="3.2" stroke-linecap="butt"/>
<line x1="977.50" y1="931.65" x2="986.10" y2="931.65" stroke="#000" stroke-width="3.2" stroke-linecap="butt"/>
<line x1="977.50" y1="850.50" x2="986.10" y2="850.50" stroke="#000" stroke-width="3.2" stroke-linecap="butt"/>
<line x1="977.50" y1="769.35" x2="986.10" y2="769.35" stroke="#000" stroke-width="3.2" stroke-linecap="butt"/>
<line x1="985.50" y1="1175.10" x2="985.50" y2="1183.50" stroke="#000" stroke-width="3.4" stroke-linecap="butt"/>
<line x1="1053.77" y1="1175.10" x2="1053.77" y2="1183.50" stroke="#000" stroke-width="3.4" stroke-linecap="butt"/>
<line x1="1122.04" y1="1175.10" x2="1122.04" y2="1183.50" stroke="#000" stroke-width="3.4" stroke-linecap="butt"/>
<line x1="1190.31" y1="1175.10" x2="1190.31" y2="1183.50" stroke="#000" stroke-width="3.4" stroke-linecap="butt"/>
<line x1="1258.58" y1="1175.10" x2="1258.58" y2="1183.50" stroke="#000" stroke-width="3.4" stroke-linecap="butt"/>
<line x1="1326.85" y1="1175.10" x2="1326.85" y2="1183.50" stroke="#000" stroke-width="3.4" stroke-linecap="butt"/>
<line x1="1395.12" y1="1175.10" x2="1395.12" y2="1183.50" stroke="#000" stroke-width="3.4" stroke-linecap="butt"/>
<line x1="1463.39" y1="1175.10" x2="1463.39" y2="1183.50" stroke="#000" stroke-width="3.4" stroke-linecap="butt"/>
<text x="945.55" y="1184.80" textLength="15.18" lengthAdjust="spacingAndGlyphs" font-size="27.6" stroke="#000" stroke-width="0.35">0</text>
<text x="945.55" y="1103.65" textLength="15.18" lengthAdjust="spacingAndGlyphs" font-size="27.6" stroke="#000" stroke-width="0.35">5</text>
<text x="930.80" y="1022.50" textLength="29.90" lengthAdjust="spacingAndGlyphs" font-size="27.6" stroke="#000" stroke-width="0.35">10</text>
<text x="930.80" y="941.35" textLength="29.90" lengthAdjust="spacingAndGlyphs" font-size="27.6" stroke="#000" stroke-width="0.35">15</text>
<text x="930.80" y="860.20" textLength="29.90" lengthAdjust="spacingAndGlyphs" font-size="27.6" stroke="#000" stroke-width="0.35">20</text>
<text x="930.80" y="779.05" textLength="29.90" lengthAdjust="spacingAndGlyphs" font-size="27.6" stroke="#000" stroke-width="0.35">25</text>
<text x="967.43" y="1217.40" textLength="44.37" lengthAdjust="spacingAndGlyphs" font-size="27.6" stroke="#000" stroke-width="0.35">102</text>
<text x="1035.70" y="1217.40" textLength="44.37" lengthAdjust="spacingAndGlyphs" font-size="27.6" stroke="#000" stroke-width="0.35">104</text>
<text x="1103.97" y="1217.40" textLength="44.37" lengthAdjust="spacingAndGlyphs" font-size="27.6" stroke="#000" stroke-width="0.35">105</text>
<text x="1172.24" y="1217.40" textLength="44.37" lengthAdjust="spacingAndGlyphs" font-size="27.6" stroke="#000" stroke-width="0.35">106</text>
<text x="1240.51" y="1217.40" textLength="44.37" lengthAdjust="spacingAndGlyphs" font-size="27.6" stroke="#000" stroke-width="0.35">107</text>
<text x="1309.71" y="1217.40" textLength="42.45" lengthAdjust="spacingAndGlyphs" font-size="27.6" stroke="#000" stroke-width="0.35">110</text>
<text x="1378.95" y="1217.40" textLength="40.54" lengthAdjust="spacingAndGlyphs" font-size="27.6" stroke="#000" stroke-width="0.35">111</text>
<text x="1446.25" y="1217.40" textLength="42.45" lengthAdjust="spacingAndGlyphs" font-size="27.6" stroke="#000" stroke-width="0.35">113</text>
<text x="1197.50" y="1254.30" textLength="43.77" lengthAdjust="spacingAndGlyphs" font-size="27.6925" stroke="#000" stroke-width="0.4">m/z</text>
<g transform="translate(911.00,1059.00) rotate(-90)">
<text x="0.00" y="0.30" textLength="173.96" lengthAdjust="spacingAndGlyphs" font-size="27.6925" stroke="#000" stroke-width="0.4">Ion count (x10</text>
<text x="173.96" y="-8.70" textLength="9.91" lengthAdjust="spacingAndGlyphs" font-size="17.985" stroke="#000" stroke-width="0.2">5</text>
<text x="183.87" y="0.30" textLength="9.14" lengthAdjust="spacingAndGlyphs" font-size="27.6925" stroke="#000" stroke-width="0.4">)</text>
</g>
<text x="1032.50" y="782.30" textLength="402.51" lengthAdjust="spacingAndGlyphs" font-size="27.6925" stroke="#000" stroke-width="0.4">A549 – Mass spectrum of GABA</text>
<rect x="1062.00" y="1041.00" width="6.00" height="134.10" fill="#4472c4"/>
<rect x="1062.00" y="1040.00" width="6.00" height="4" rx="1.8" fill="#4472c4"/>
<rect x="1144.50" y="1168.50" width="5.50" height="6.60" fill="#ff2010"/>
<rect x="1144.50" y="1167.50" width="5.50" height="4" rx="1.8" fill="#ff2010"/>
<rect x="1287.50" y="1167.30" width="5.75" height="7.80" fill="#ff2010"/>
<rect x="1287.50" y="1166.30" width="5.75" height="4" rx="1.8" fill="#ff2010"/>
<rect x="1295.00" y="1109.30" width="5.50" height="65.80" fill="#40c057"/>
<rect x="1295.00" y="1108.30" width="5.50" height="4" rx="1.8" fill="#40c057"/>
<rect x="1322.00" y="1116.00" width="5.50" height="59.10" fill="#40c057"/>
<rect x="1322.00" y="1115.00" width="5.50" height="4" rx="1.8" fill="#40c057"/>
<rect x="1349.50" y="948.00" width="6.00" height="227.10" fill="#40c057"/>
<rect x="1349.50" y="947.00" width="6.00" height="4" rx="1.8" fill="#40c057"/>
<line x1="977.50" y1="1175.10" x2="1470.75" y2="1175.10" stroke="#000" stroke-width="4.5" stroke-linecap="butt"/>
<text x="1022.20" y="1004.90" textLength="17.00" lengthAdjust="spacingAndGlyphs" font-size="17.44" font-weight="bold" fill="#4472c4">12</text>
<text x="1039.20" y="1013.90" textLength="17.61" lengthAdjust="spacingAndGlyphs" font-size="27.82" font-weight="bold" fill="#4472c4">C</text>
<text x="1056.82" y="1020.20" textLength="8.50" lengthAdjust="spacingAndGlyphs" font-size="17.44" font-weight="bold" fill="#4472c4">4</text>
<text x="1121.70" y="1136.65" textLength="17.00" lengthAdjust="spacingAndGlyphs" font-size="17.44" font-weight="bold" fill="#ff2010">13</text>
<text x="1138.70" y="1145.65" textLength="17.61" lengthAdjust="spacingAndGlyphs" font-size="27.82" font-weight="bold" fill="#ff2010">C</text>
<text x="1156.32" y="1151.95" textLength="8.50" lengthAdjust="spacingAndGlyphs" font-size="17.44" font-weight="bold" fill="#ff2010">1</text>
<text x="1242.20" y="1137.40" textLength="16.81" lengthAdjust="spacingAndGlyphs" font-size="17.44" font-weight="bold" fill="#ff2010">13</text>
<text x="1259.01" y="1146.40" textLength="17.41" lengthAdjust="spacingAndGlyphs" font-size="27.82" font-weight="bold" fill="#ff2010">C</text>
<text x="1276.41" y="1152.70" textLength="8.40" lengthAdjust="spacingAndGlyphs" font-size="17.44" font-weight="bold" fill="#ff2010">4</text>
<text x="1256.70" y="1076.15" textLength="8.87" lengthAdjust="spacingAndGlyphs" font-size="17.44" font-weight="bold" fill="#40c057">2</text>
<text x="1265.57" y="1085.15" textLength="18.38" lengthAdjust="spacingAndGlyphs" font-size="27.82" font-weight="bold" fill="#40c057">H</text>
<text x="1283.95" y="1091.45" textLength="8.87" lengthAdjust="spacingAndGlyphs" font-size="17.44" font-weight="bold" fill="#40c057">4</text>
<text x="1297.20" y="1076.15" textLength="8.87" lengthAdjust="spacingAndGlyphs" font-size="17.44" font-weight="bold" fill="#40c057">2</text>
<text x="1306.07" y="1085.15" textLength="18.38" lengthAdjust="spacingAndGlyphs" font-size="27.82" font-weight="bold" fill="#40c057">H</text>
<text x="1324.45" y="1091.45" textLength="8.87" lengthAdjust="spacingAndGlyphs" font-size="17.44" font-weight="bold" fill="#40c057">5</text>
<text x="1312.20" y="919.65" textLength="8.93" lengthAdjust="spacingAndGlyphs" font-size="17.44" font-weight="bold" fill="#40c057">2</text>
<text x="1321.13" y="928.65" textLength="18.50" lengthAdjust="spacingAndGlyphs" font-size="27.82" font-weight="bold" fill="#40c057">H</text>
<text x="1339.64" y="934.95" textLength="8.93" lengthAdjust="spacingAndGlyphs" font-size="17.44" font-weight="bold" fill="#40c057">6</text>
</g>
<g id="panel-g">
<text x="1457.70" y="599.30" textLength="29.14" lengthAdjust="spacingAndGlyphs" font-size="33.5" font-weight="bold">g.</text>
<polygon points="1652.00,612.00 1860.00,612.00 1860.00,594.50 1910.75,635.38 1860.00,676.25 1860.00,658.75 1652.00,658.75" fill="#d0d0d0"/>
<circle cx="1555.00" cy="637.00" r="4.50" fill="#70b544"/>
<text x="1570.45" y="644.35" textLength="11.62" lengthAdjust="spacingAndGlyphs" font-size="21.45" font-weight="bold">2</text>
<text x="1584.20" y="654.60" textLength="20.34" lengthAdjust="spacingAndGlyphs" font-size="33.5" font-weight="bold">H</text>
<text x="1621.25" y="634.25" textLength="49.76" lengthAdjust="spacingAndGlyphs" font-size="29.925" font-weight="bold">Orn</text>
<text x="1726.75" y="634.25" textLength="44.77" lengthAdjust="spacingAndGlyphs" font-size="29.925" font-weight="bold">Put</text>
<text x="1825.75" y="634.25" textLength="81.23" lengthAdjust="spacingAndGlyphs" font-size="29.925" font-weight="bold">GABA</text>
<ellipse cx="1616.75" cy="652.00" rx="4.40" ry="4.10" fill="#70b544"/>
<ellipse cx="1628.00" cy="652.00" rx="4.40" ry="4.10" fill="#70b544"/>
<ellipse cx="1639.25" cy="652.00" rx="4.40" ry="4.10" fill="#70b544"/>
<ellipse cx="1650.50" cy="652.00" rx="4.40" ry="4.10" fill="#70b544"/>
<ellipse cx="1661.75" cy="652.00" rx="4.40" ry="4.10" fill="#70b544"/>
<ellipse cx="1673.00" cy="652.00" rx="4.40" ry="4.10" fill="#70b544"/>
<ellipse cx="1721.75" cy="653.00" rx="4.40" ry="4.10" fill="#70b544"/>
<ellipse cx="1733.00" cy="653.00" rx="4.40" ry="4.10" fill="#70b544"/>
<ellipse cx="1744.25" cy="653.00" rx="4.40" ry="4.10" fill="#70b544"/>
<ellipse cx="1755.50" cy="653.00" rx="4.40" ry="4.10" fill="#70b544"/>
<ellipse cx="1766.75" cy="653.00" rx="4.40" ry="4.10" fill="#70b544"/>
<ellipse cx="1778.00" cy="653.00" rx="4.40" ry="4.10" fill="#70b544"/>
<ellipse cx="1819.50" cy="653.25" rx="4.40" ry="4.10" fill="#70b544"/>
<ellipse cx="1830.75" cy="653.25" rx="4.40" ry="4.10" fill="#70b544"/>
<ellipse cx="1842.00" cy="653.25" rx="4.40" ry="4.10" fill="#70b544"/>
<ellipse cx="1853.25" cy="653.25" rx="4.40" ry="4.10" fill="#70b544"/>
<ellipse cx="1864.50" cy="653.25" rx="4.40" ry="4.10" fill="#70b544"/>
<ellipse cx="1875.75" cy="653.25" rx="4.40" ry="4.10" fill="#70b544"/>
<ellipse cx="1911.75" cy="655.00" rx="4.40" ry="4.10" fill="#70b544"/>
<ellipse cx="1923.00" cy="655.00" rx="4.40" ry="4.10" fill="#70b544"/>
<ellipse cx="1934.25" cy="655.00" rx="4.40" ry="4.10" fill="#70b544"/>
<ellipse cx="1945.50" cy="655.00" rx="4.40" ry="4.10" fill="#70b544"/>
<text x="1884.20" y="660.10" textLength="13.34" lengthAdjust="spacingAndGlyphs" font-size="20.9" font-weight="bold">&amp;</text>
<polygon points="1687.00,632.70 1700.51,632.70 1694.95,624.00 1718.00,635.50 1694.95,647.00 1700.51,638.30 1687.00,638.30" fill="#777"/>
<polygon points="1788.75,632.70 1802.26,632.70 1796.70,624.00 1819.75,635.50 1796.70,647.00 1802.26,638.30 1788.75,638.30" fill="#777"/>
<text x="1610.87" y="678.50" textLength="10.29" lengthAdjust="spacingAndGlyphs" font-size="19.61" stroke="#000" stroke-width="0.25">1</text>
<text x="1667.62" y="678.50" textLength="10.29" lengthAdjust="spacingAndGlyphs" font-size="19.61" stroke="#000" stroke-width="0.25">6</text>
<text x="1716.37" y="680.50" textLength="10.29" lengthAdjust="spacingAndGlyphs" font-size="19.61" stroke="#000" stroke-width="0.25">1</text>
<text x="1772.87" y="680.50" textLength="10.29" lengthAdjust="spacingAndGlyphs" font-size="19.61" stroke="#000" stroke-width="0.25">6</text>
<text x="1813.62" y="681.25" textLength="10.29" lengthAdjust="spacingAndGlyphs" font-size="19.61" stroke="#000" stroke-width="0.25">1</text>
<text x="1870.87" y="681.25" textLength="10.29" lengthAdjust="spacingAndGlyphs" font-size="19.61" stroke="#000" stroke-width="0.25">6</text>
<text x="1905.87" y="682.50" textLength="10.29" lengthAdjust="spacingAndGlyphs" font-size="19.61" stroke="#000" stroke-width="0.25">1</text>
<text x="1939.12" y="682.50" textLength="10.29" lengthAdjust="spacingAndGlyphs" font-size="19.61" stroke="#000" stroke-width="0.25">4</text>
<line x1="1648.50" y1="757.30" x2="1648.50" y2="1174.40" stroke="#000" stroke-width="3" stroke-linecap="butt"/>
<line x1="1640.00" y1="1172.90" x2="1952.50" y2="1172.90" stroke="#000" stroke-width="3" stroke-linecap="butt"/>
<line x1="1640.00" y1="1104.15" x2="1648.50" y2="1104.15" stroke="#000" stroke-width="2.8" stroke-linecap="butt"/>
<line x1="1640.00" y1="1035.40" x2="1648.50" y2="1035.40" stroke="#000" stroke-width="2.8" stroke-linecap="butt"/>
<line x1="1640.00" y1="966.65" x2="1648.50" y2="966.65" stroke="#000" stroke-width="2.8" stroke-linecap="butt"/>
<line x1="1640.00" y1="897.90" x2="1648.50" y2="897.90" stroke="#000" stroke-width="2.8" stroke-linecap="butt"/>
<line x1="1640.00" y1="829.15" x2="1648.50" y2="829.15" stroke="#000" stroke-width="2.8" stroke-linecap="butt"/>
<line x1="1640.00" y1="760.40" x2="1648.50" y2="760.40" stroke="#000" stroke-width="2.8" stroke-linecap="butt"/>
<text x="1583.80" y="1181.50" textLength="39.41" lengthAdjust="spacingAndGlyphs" font-size="27.6" stroke="#000" stroke-width="0.35">0%</text>
<text x="1568.05" y="1112.75" textLength="55.12" lengthAdjust="spacingAndGlyphs" font-size="27.6" stroke="#000" stroke-width="0.35">10%</text>
<text x="1568.05" y="1044.00" textLength="55.12" lengthAdjust="spacingAndGlyphs" font-size="27.6" stroke="#000" stroke-width="0.35">20%</text>
<text x="1568.05" y="975.25" textLength="55.12" lengthAdjust="spacingAndGlyphs" font-size="27.6" stroke="#000" stroke-width="0.35">30%</text>
<text x="1568.05" y="906.50" textLength="55.12" lengthAdjust="spacingAndGlyphs" font-size="27.6" stroke="#000" stroke-width="0.35">40%</text>
<text x="1568.05" y="837.75" textLength="55.12" lengthAdjust="spacingAndGlyphs" font-size="27.6" stroke="#000" stroke-width="0.35">50%</text>
<text x="1568.05" y="769.00" textLength="55.12" lengthAdjust="spacingAndGlyphs" font-size="27.6" stroke="#000" stroke-width="0.35">60%</text>
<g transform="translate(1547.25,1075.00) rotate(-90)">
<text x="0.00" y="0.30" textLength="210.98" lengthAdjust="spacingAndGlyphs" font-size="27.6925" stroke="#000" stroke-width="0.4">Labeling Fraction</text>
</g>
<text x="1702.95" y="760.60" textLength="12.88" lengthAdjust="spacingAndGlyphs" font-size="25.3" font-weight="bold" fill="#70b544">2</text>
<text x="1718.75" y="771.00" textLength="23.24" lengthAdjust="spacingAndGlyphs" font-size="34.125" font-weight="bold" fill="#70b544">H</text>
<text x="1742.50" y="779.25" textLength="12.53" lengthAdjust="spacingAndGlyphs" font-size="22.26" stroke="#000" stroke-width="0.25">6</text>
<text x="1757.50" y="770.80" textLength="146.74" lengthAdjust="spacingAndGlyphs" font-size="27.6925" stroke="#000" stroke-width="0.4">-GABA from</text>
<text x="1668.45" y="799.35" textLength="11.88" lengthAdjust="spacingAndGlyphs" font-size="21.45" font-weight="bold" fill="#70b544">2</text>
<text x="1682.00" y="808.50" textLength="20.74" lengthAdjust="spacingAndGlyphs" font-size="30.975" font-weight="bold" fill="#70b544">H</text>
<text x="1703.75" y="816.00" textLength="10.52" lengthAdjust="spacingAndGlyphs" font-size="19.61" stroke="#000" stroke-width="0.25">6</text>
<text x="1716.25" y="808.30" textLength="223.01" lengthAdjust="spacingAndGlyphs" font-size="27.6925" stroke="#000" stroke-width="0.4">-Ornithine (hiFBS)</text>
<text x="1865.00" y="880.30" textLength="22.52" lengthAdjust="spacingAndGlyphs" font-size="27.6925" stroke="#000" stroke-width="0.4">**</text>
<rect x="1681.50" y="1142.25" width="86.00" height="30.65" fill="#7ab648" stroke="#000" stroke-width="4"/>
<rect x="1833.90" y="941.00" width="86.50" height="231.90" fill="url(#stripe)" stroke="#000" stroke-width="4.2"/>
<line x1="1877.20" y1="927.20" x2="1877.20" y2="954.80" stroke="#000" stroke-width="3.5" stroke-linecap="butt"/>
<line x1="1868.00" y1="927.20" x2="1886.00" y2="927.20" stroke="#000" stroke-width="3.4" stroke-linecap="butt"/>
<line x1="1868.00" y1="954.80" x2="1886.00" y2="954.80" stroke="#000" stroke-width="3.4" stroke-linecap="butt"/>
<circle cx="1709.25" cy="1143.50" r="7.00" fill="#fff" stroke="#000" stroke-width="2.9"/>
<circle cx="1724.25" cy="1138.50" r="7.00" fill="#fff" stroke="#000" stroke-width="2.9"/>
<circle cx="1739.25" cy="1144.00" r="7.00" fill="#fff" stroke="#000" stroke-width="2.9"/>
<circle cx="1877.00" cy="913.50" r="8.20" fill="#fff" stroke="#000" stroke-width="2.8"/>
<circle cx="1846.20" cy="953.20" r="8.20" fill="#fff" stroke="#000" stroke-width="2.8"/>
<circle cx="1907.40" cy="955.60" r="8.20" fill="#fff" stroke="#000" stroke-width="2.8"/>
<text x="1676.25" y="1215.55" textLength="96.22" lengthAdjust="spacingAndGlyphs" font-size="27.6925" stroke="#000" stroke-width="0.4">HepG2-</text>
<text x="1707.00" y="1246.80" textLength="35.51" lengthAdjust="spacingAndGlyphs" font-size="27.6925" stroke="#000" stroke-width="0.4">Ctr</text>
<text x="1828.75" y="1215.55" textLength="96.22" lengthAdjust="spacingAndGlyphs" font-size="27.6925" stroke="#000" stroke-width="0.4">HepG2-</text>
<text x="1817.50" y="1246.80" textLength="118.02" lengthAdjust="spacingAndGlyphs" font-size="27.6925" stroke="#000" stroke-width="0.4">SLC45A4</text>
</g>
</svg>
</body></html>
